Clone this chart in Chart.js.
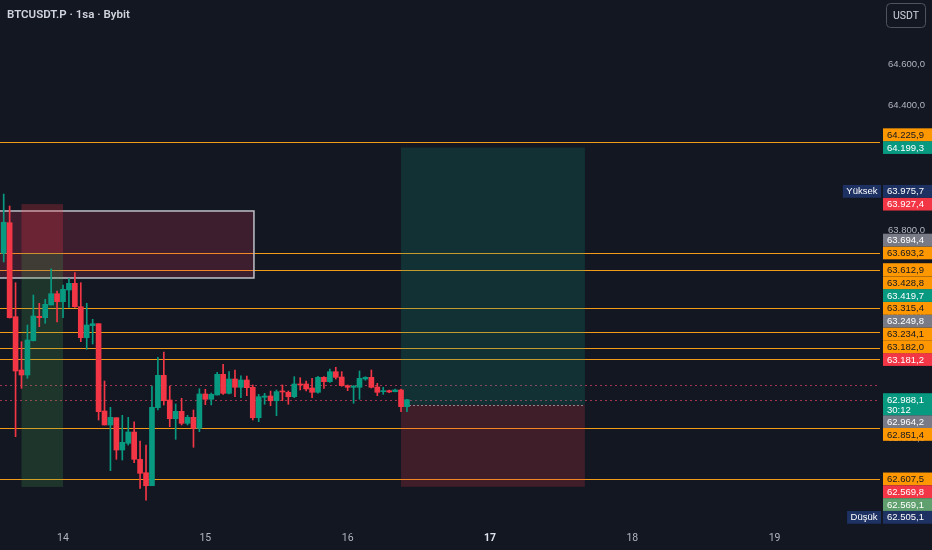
<!DOCTYPE html>
<html><head><meta charset="utf-8">
<script src="https://cdn.jsdelivr.net/npm/chart.js@4.4.1/dist/chart.umd.min.js"></script>
<style>html,body{margin:0;padding:0;background:#131722;overflow:hidden}canvas{display:block}</style>
</head><body>
<canvas id="c" width="932" height="550"></canvas>
<script>
// ---------- data ----------
const title = 'BTCUSDT.P · 1sa · Bybit';
const currency = 'USDT';
const dayTicks = [0, 24, 48, 72, 96, 120];          // hours from 14th 00:00
const dayLabels = ['14', '15', '16', '17', '18', '19'];
const priceTicks = [62600, 62800, 63000, 63200, 63400, 63600, 63800, 64000, 64200, 64400, 64600];
const firstHour = -10; // first candle: 13th 14:00

const opens = [63691.3,63838.3,63386.8,63130.8,63106.8,63271.5,63388.7,63381.9,63443.0,63497.2,63458.8,63515.0,63547.2,63434.8,63285.9,63343.6,63353.2,62933.8,62866.6,62901.6,62746.5,62778.7,62833.0,62701.8,62637.5,62575.0,62949.7,63105.3,62986.7,62896.8,62932.3,62874.7,62903.5,62850.7,63015.6,62990.1,63010.7,63110.1,63018.8,63087.5,63047.7,63082.7,63047.7,62901.6,62999.6,63005.9,62983.3,63028.5,63023.7,63002.5,63063.6,63063.6,63044.4,63023.7,63095.7,63074.6,63122.6,63097.1,63055.4,63047.7,63047.7,63087.5,63095.7,63049.2,63026.6,63031.4,63026.6,63034.8,62954.6];
const highs = [63975.7,63918.5,63550.0,63266.7,63347.0,63491.0,63451.1,63470.3,63617.3,63510.2,63539.0,63571.2,63598.1,63550.0,63451.1,63374.3,63353.2,63077.9,62951.6,62901.6,62913.1,62903.5,62882.4,62789.7,62770.5,63053.9,63191.8,63216.8,63053.9,62967.5,62994.9,62913.1,62938.7,63041.0,63038.1,63020.0,63119.7,63158.3,63122.6,63130.8,63103.3,63101.9,63058.8,63014.0,63018.8,63029.9,63034.8,63058.8,63029.9,63098.6,63093.8,63077.9,63090.9,63100.5,63098.6,63135.6,63143.8,63122.6,63058.8,63055.4,63126.0,63098.6,63130.8,63066.9,63047.7,63034.8,63039.6,63039.6,62990.1];
const lows = [63649.5,63380.5,62810.4,63042.9,63091.0,63270.0,63338.8,63355.2,63443.0,63361.4,63381.9,63431.9,63431.9,63266.7,63230.2,63255.6,62890.6,62866.6,62647.2,62701.8,62698.5,62770.1,62685.5,62562.6,62505.1,62575.0,62938.7,62962.7,62858.4,62797.9,62866.6,62866.6,62759.6,62834.5,62964.2,62962.7,63010.7,63014.0,63015.6,63002.5,62997.7,63007.3,62890.6,62882.4,62966.1,62959.3,62911.4,62983.3,62966.1,62997.7,63034.8,63029.9,62997.7,63020.0,63042.9,63071.7,63087.5,63052.5,63031.4,62970.9,62990.1,63081.3,63044.4,63007.3,63014.0,63021.9,63025.2,62930.5,62930.5];
const closes = [63840.2,63381.9,63125.9,63106.8,63274.9,63390.1,63381.9,63446.3,63497.2,63458.8,63518.4,63547.2,63434.8,63285.9,63346.9,63353.2,62930.5,62866.6,62903.5,62746.5,62783.5,62833.0,62701.8,62634.6,62575.0,62951.6,63105.3,62983.3,62896.8,62932.3,62874.7,62903.5,62850.7,63015.6,62990.1,63014.0,63110.1,63018.8,63087.5,63047.7,63082.7,63045.7,62901.6,63002.5,63005.9,62983.3,63026.6,63025.2,63002.5,63063.6,63058.8,63039.6,63023.7,63095.7,63074.6,63122.6,63095.7,63055.4,63047.7,63053.9,63090.9,63095.7,63047.7,63023.7,63031.4,63025.2,63034.8,62954.6,62988.1];

const orangeLevels = [64225.9, 63693.2, 63612.9, 63428.8, 63315.4, 63234.1, 63182.0, 62851.4, 62607.5];
const dottedLevels = [63058.8, 62988.1];
const currentPrice = 62988.1;
const countdown = '30:12';

// rectangle drawing: [fromHour, toHour, top, bottom]
const boxZone = [-14, 32.2, 63894.5, 63572.7];
// short position: [fromHour, toHour, stop, entry, target]
const shortTool = [-7, 0, 63927.4, 63693.2, 62569.1];
// long position: [fromHour, toHour, target, entry, stop]
const longTool = [57, 88, 64199.3, 62964.2, 62569.8];

// price-axis labels
const labelPrices = [64225.9, 64199.3, 63975.7, 63927.4, 63694.4, 63693.2, 63612.9, 63428.8, 63419.7, 63315.4, 63249.8, 63234.1, 63182.0, 63181.2, 62964.2, 62851.4, 62607.5, 62569.8, 62569.1, 62505.1];
const labelKinds  = ['orange','green','navy','red','gray','orange','orange','orange','green','orange','gray','orange','orange','red','gray','orange','orange','red','lgreen','navy'];
const labelTags   = ['','','Yüksek','','','','','','','','','','','','','','','','','Düşük'];

// ---------- view / style ----------
const X_MIN = -10.624, X_MAX = 137.77;
const Y_MIN = 62376.7, Y_MAX = 64907.9;
const GREEN = '#089981', RED = '#f23645', BG = '#131722';
const KIND = {
  orange: ['#ff9800', '#131722'], green: ['#089981', '#ffffff'], red: ['#f23645', '#ffffff'],
  gray: ['#787b86', '#ffffff'], navy: ['#1e3163', '#ffffff'], lgreen: ['#5fa06e', '#ffffff']
};
const FONT = "'Liberation Sans', Arial, sans-serif";
const FS = 9.5;

const fmt = v => { const s = v.toFixed(1).split('.'); return s[0].replace(/\B(?=(\d{3})+(?!\d))/g, '.') + ',' + s[1]; };

const hours = opens.map((_, i) => firstHour + i);
const isUp = opens.map((o, i) => closes[i] >= o);
const bodies = hours.map((h, i) => ({ x: h, y: [opens[i], closes[i]] }));
const wicks = hours.map((h, i) => ({ x: h, y: [lows[i], highs[i]] }));
const colors = isUp.map(u => u ? GREEN : RED);

const overlay = {
  id: 'overlay',
  beforeDraw(chart) {
    const c = chart.ctx; c.save(); c.fillStyle = BG; c.fillRect(0, 0, chart.width, chart.height); c.restore();
  },
  beforeDatasetsDraw(chart) {
    const c = chart.ctx, a = chart.chartArea, xs = chart.scales.x, ys = chart.scales.y;
    c.save();
    c.beginPath(); c.rect(a.left, a.top, a.right - a.left, a.bottom - a.top); c.clip();
    c.strokeStyle = '#f29a1a'; c.lineWidth = 1;
    orangeLevels.forEach(p => {
      const y = Math.round(ys.getPixelForValue(p)) + 0.5;
      c.beginPath(); c.moveTo(a.left, y); c.lineTo(a.right, y); c.stroke();
    });
    c.strokeStyle = 'rgba(200,60,90,0.8)'; c.setLineDash([2, 3]);
    dottedLevels.forEach(p => {
      const y = Math.round(ys.getPixelForValue(p)) + 0.5;
      c.beginPath(); c.moveTo(a.left, y); c.lineTo(a.right, y); c.stroke();
    });
    c.setLineDash([]);
    const bx1 = xs.getPixelForValue(boxZone[0]), bx2 = xs.getPixelForValue(boxZone[1]);
    const by1 = ys.getPixelForValue(boxZone[2]), by2 = ys.getPixelForValue(boxZone[3]);
    c.fillStyle = 'rgba(230,60,100,0.2)'; c.fillRect(bx1, by1, bx2 - bx1, by2 - by1);
    c.strokeStyle = '#bfc1c8'; c.lineWidth = 1.5; c.strokeRect(bx1, by1, bx2 - bx1, by2 - by1);
    let x1 = xs.getPixelForValue(shortTool[0]), x2 = xs.getPixelForValue(shortTool[1]);
    let yS = ys.getPixelForValue(shortTool[2]), yE = ys.getPixelForValue(shortTool[3]), yT = ys.getPixelForValue(shortTool[4]);
    c.fillStyle = 'rgba(242,54,69,0.25)'; c.fillRect(x1, yS, x2 - x1, yE - yS);
    c.fillStyle = 'rgba(76,175,80,0.2)'; c.fillRect(x1, yE, x2 - x1, yT - yE);
    x1 = xs.getPixelForValue(longTool[0]); x2 = xs.getPixelForValue(longTool[1]);
    yT = ys.getPixelForValue(longTool[2]); yE = ys.getPixelForValue(longTool[3]); yS = ys.getPixelForValue(longTool[4]);
    c.fillStyle = 'rgba(8,153,129,0.2)'; c.fillRect(x1, yT, x2 - x1, yE - yT);
    c.fillStyle = 'rgba(242,54,69,0.2)'; c.fillRect(x1, yE, x2 - x1, yS - yE);
    c.strokeStyle = 'rgba(180,183,190,0.7)'; c.setLineDash([2, 2]); c.lineWidth = 1;
    const ye = Math.round(yE) + 0.5;
    c.beginPath(); c.moveTo(x1, ye); c.lineTo(x2, ye); c.stroke();
    c.setLineDash([]);
    c.restore();
  },
  afterDraw(chart) {
    const c = chart.ctx, a = chart.chartArea, ys = chart.scales.y;
    const H = 12.8, left = a.right + 3, W = chart.width - left;
    c.save();
    c.font = FS + 'px ' + FONT; c.textBaseline = 'middle';
    const yCur = ys.getPixelForValue(currentPrice);
    const curTop = yCur - 6.5, curBot = yCur + 15.5;
    const items = labelPrices.map((p, i) => ({ p, k: labelKinds[i], tag: labelTags[i], ideal: ys.getPixelForValue(p) }));
    const above = items.filter(o => o.p > currentPrice).sort((a1, b1) => a1.p - b1.p);
    const below = items.filter(o => o.p < currentPrice).sort((a1, b1) => b1.p - a1.p);
    let lim = curTop - H / 2;
    above.forEach(o => { o.y = Math.min(o.ideal, lim); lim = o.y - H; });
    lim = curBot + H / 2;
    below.forEach(o => { o.y = Math.max(o.ideal, lim); lim = o.y + H; });
    const drawLabel = o => {
      const [bg, fg] = KIND[o.k];
      c.fillStyle = bg; c.fillRect(left, o.y - H / 2, W, H);
      c.fillStyle = fg; c.textAlign = 'left'; c.fillText(fmt(o.p), left + 4, o.y + 0.5);
      if (o.tag) {
        const tw = c.measureText(o.tag).width + 7;
        c.fillStyle = bg; c.fillRect(left - 2 - tw, o.y - H / 2, tw, H);
        c.fillStyle = '#ffffff'; c.fillText(o.tag, left - 2 - tw + 3.5, o.y + 0.5);
      }
    };
    above.forEach(drawLabel);
    below.forEach(drawLabel);
    c.fillStyle = GREEN; c.fillRect(left, curTop, W, curBot - curTop);
    c.fillStyle = '#ffffff';
    c.fillText(fmt(currentPrice), left + 4, yCur + 0.5);
    c.fillText(countdown, left + 4, yCur + 10.5);
    c.font = "600 11.5px Roboto, 'Liberation Sans', sans-serif";
    c.fillStyle = '#d1d4dc'; c.textAlign = 'left';
    c.fillText(title, 7, 15);
    c.fillStyle = BG; c.strokeStyle = '#50535e'; c.lineWidth = 1;
    c.beginPath(); c.roundRect(886.5, 3.5, 39, 24, 4); c.fill(); c.stroke();
    c.fillStyle = '#d1d4dc'; c.font = "10.5px Roboto, 'Liberation Sans', sans-serif"; c.textAlign = 'center';
    c.fillText(currency, 906, 16);
    c.restore();
  }
};

new Chart(document.getElementById('c').getContext('2d'), {
  type: 'bar',
  data: {
    datasets: [
      { data: bodies, backgroundColor: colors, barThickness: 5, minBarLength: 1, grouped: false, borderWidth: 0 },
      { data: wicks, backgroundColor: colors, barThickness: 1, grouped: false, borderWidth: 0 }
    ]
  },
  options: {
    responsive: false, animation: false, devicePixelRatio: 1,
    layout: { padding: 0, autoPadding: false },
    plugins: { legend: { display: false }, tooltip: { enabled: false } },
    scales: {
      x: {
        type: 'linear', min: X_MIN, max: X_MAX, offset: false,
        grid: { display: false, drawTicks: false }, border: { display: false },
        afterFit: s => { s.height = 23; s.paddingLeft = 0; s.paddingRight = 0; },
        afterBuildTicks: s => { s.ticks = dayTicks.map(v => ({ value: v })); },
        ticks: {
          padding: 5, autoSkip: false, maxRotation: 0,
          callback: v => dayLabels[dayTicks.indexOf(v)],
          color: ctx => ctx.tick && ctx.tick.value === 72 ? '#e0e3eb' : '#b2b5be',
          font: ctx => ({ family: "Roboto, 'Liberation Sans', sans-serif", size: 10.5, weight: ctx.tick && ctx.tick.value === 72 ? 'bold' : 'normal' })
        }
      },
      y: {
        type: 'linear', position: 'right', min: Y_MIN, max: Y_MAX,
        grid: { display: false, drawTicks: false }, border: { display: false },
        afterFit: s => { s.width = 52; s.paddingTop = 0; s.paddingBottom = 0; },
        afterBuildTicks: s => { s.ticks = priceTicks.map(v => ({ value: v })); },
        ticks: {
          padding: 8, autoSkip: false, color: '#b2b5be',
          font: { family: FONT, size: FS },
          callback: v => fmt(v)
        }
      }
    }
  },
  plugins: [overlay]
});
</script>
</body></html>
